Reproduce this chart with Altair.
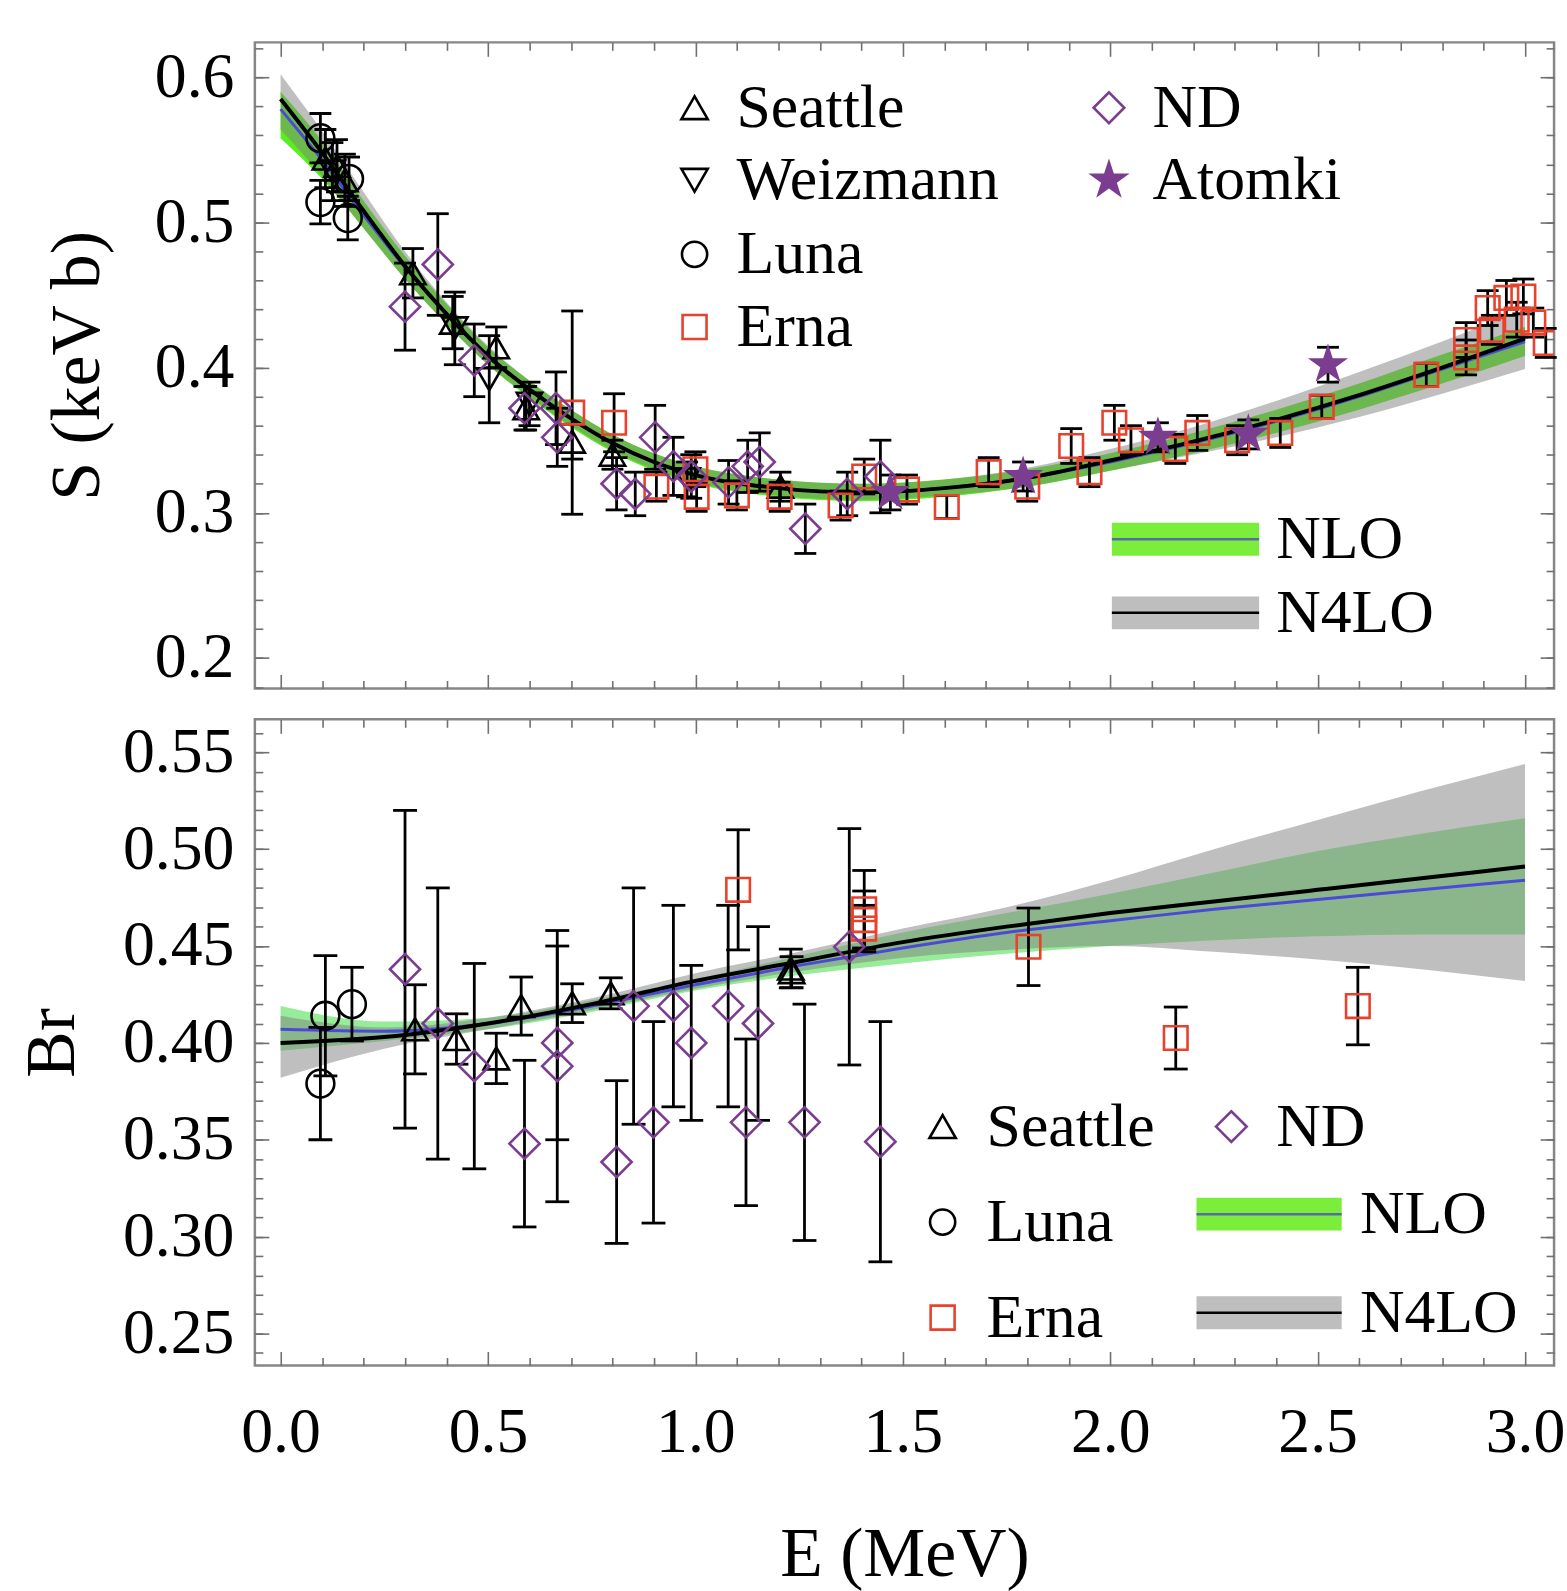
import altair as alt
import pandas as pd

FONT = "Liberation Serif"

# ---------------- top panel: S factor (keV b) ----------------
top_seattle_E = [0.108, 0.136, 0.155, 0.319, 0.415, 0.520, 0.592, 0.703, 0.800, 1.205]
top_seattle_S = [0.544, 0.539, 0.529, 0.465, 0.431, 0.414, 0.372, 0.349, 0.340, 0.318]
top_seattle_err = [0.020, 0.018, 0.018, 0.017, 0.018, 0.014, 0.015, 0.012, 0.010, 0.010]

top_weiz_E = [0.125, 0.420, 0.503, 0.600, 0.980]
top_weiz_S = [0.535, 0.427, 0.392, 0.375, 0.323]
top_weiz_err = [0.020, 0.025, 0.030, 0.015, 0.012]

top_luna_E = [0.096, 0.096, 0.165, 0.162]
top_luna_S = [0.558, 0.514, 0.530, 0.503]
top_luna_err = [0.017, 0.015, 0.015, 0.015]

top_erna_E = [0.703, 0.804, 0.906, 1.000, 1.003, 1.100, 1.203, 1.350, 1.407, 1.510,
              1.606, 1.707, 1.800, 1.906, 1.950, 2.010, 2.050, 2.157, 2.210, 2.306,
              2.410, 2.510, 2.762, 2.858, 2.858, 2.910, 2.920, 2.955, 2.980, 2.996,
              3.020, 3.050]
top_erna_S = [0.369, 0.362, 0.318, 0.330, 0.311, 0.312, 0.311, 0.305, 0.325, 0.316,
              0.304, 0.328, 0.318, 0.346, 0.328, 0.362, 0.350, 0.344, 0.355, 0.350,
              0.355, 0.373, 0.395, 0.419, 0.407, 0.441, 0.426, 0.448, 0.433, 0.449,
              0.431, 0.417]
top_erna_err = [0.070, 0.020, 0.010, 0.012, 0.010, 0.010, 0.010, 0.010, 0.012, 0.010,
                0.008, 0.010, 0.010, 0.012, 0.010, 0.012, 0.010, 0.010, 0.012, 0.010,
                0.010, 0.008, 0.008, 0.012, 0.012, 0.012, 0.010, 0.012, 0.012, 0.012,
                0.010, 0.010]

top_nd_E = [0.300, 0.379, 0.467, 0.588, 0.664, 0.667, 0.810, 0.855, 0.903, 0.947,
            0.990, 1.080, 1.126, 1.155, 1.265, 1.366, 1.446]
top_nd_S = [0.442, 0.471, 0.405, 0.372, 0.372, 0.352, 0.320, 0.313, 0.352, 0.332,
            0.325, 0.321, 0.332, 0.335, 0.289, 0.313, 0.325]
top_nd_err = [0.030, 0.035, 0.025, 0.015, 0.025, 0.020, 0.018, 0.015, 0.022, 0.020,
              0.015, 0.015, 0.018, 0.020, 0.017, 0.015, 0.025]

top_atomki_E = [1.470, 1.790, 2.115, 2.333, 2.525]
top_atomki_S = [0.314, 0.325, 0.352, 0.354, 0.402]
top_atomki_err = [0.012, 0.010, 0.010, 0.010, 0.012]

top_curve_E = [0.0, 0.1, 0.2, 0.3, 0.4, 0.5, 0.6, 0.7, 0.8, 0.9, 1.0,
               1.2, 1.4, 1.6, 1.8, 2.0, 2.2, 2.4, 2.6, 2.8, 3.0]
top_n4lo = [0.585, 0.548, 0.508, 0.470, 0.437, 0.408, 0.385, 0.365, 0.348, 0.335, 0.326,
            0.317, 0.314, 0.317, 0.324, 0.336, 0.349, 0.364, 0.381, 0.400, 0.420]
top_nlo = [0.578, 0.543, 0.505, 0.469, 0.437, 0.408, 0.385, 0.365, 0.348, 0.335, 0.326,
           0.317, 0.314, 0.317, 0.324, 0.335, 0.348, 0.363, 0.380, 0.399, 0.418]
top_nlo_lo = [0.558, 0.530, 0.496, 0.461, 0.430, 0.402, 0.379, 0.359, 0.342, 0.329, 0.320,
              0.311, 0.308, 0.311, 0.318, 0.329, 0.341, 0.355, 0.371, 0.389, 0.408]
top_nlo_hi = [0.590, 0.556, 0.515, 0.477, 0.444, 0.414, 0.391, 0.371, 0.354, 0.341, 0.332,
              0.323, 0.320, 0.323, 0.330, 0.341, 0.355, 0.371, 0.389, 0.409, 0.428]
top_n4lo_lo = [0.564, 0.532, 0.496, 0.461, 0.430, 0.402, 0.380, 0.360, 0.343, 0.330, 0.321,
               0.312, 0.309, 0.312, 0.318, 0.329, 0.340, 0.352, 0.366, 0.382, 0.399]
top_n4lo_hi = [0.602, 0.563, 0.521, 0.480, 0.445, 0.415, 0.391, 0.371, 0.354, 0.341, 0.332,
               0.323, 0.320, 0.323, 0.331, 0.344, 0.359, 0.377, 0.397, 0.418, 0.440]

# ---------------- bottom panel: branching ratio ----------------
bot_seattle_E = [0.324, 0.424, 0.520, 0.580, 0.703, 0.796, 1.230, 1.232]
bot_seattle_B = [0.407, 0.402, 0.392, 0.419, 0.4205, 0.4256, 0.4384, 0.4365]
bot_seattle_err = [0.023, 0.013, 0.013, 0.015, 0.010, 0.008, 0.010, 0.008]

bot_luna_E = [0.096, 0.108, 0.172]
bot_luna_B = [0.379, 0.414, 0.420]
bot_luna_err = [0.029, 0.031, 0.019]

bot_erna_E = [1.103, 1.407, 1.407, 1.407, 1.803, 2.158, 2.597]
bot_erna_B = [0.479, 0.469, 0.4634, 0.459, 0.4496, 0.4025, 0.419]
bot_erna_err = [0.031, 0.020, 0.015, 0.012, 0.020, 0.016, 0.020]

bot_nd_E = [0.300, 0.379, 0.467, 0.588, 0.667, 0.667, 0.810, 0.851, 0.899, 0.947,
            0.990, 1.079, 1.122, 1.151, 1.263, 1.371, 1.446]
bot_nd_B = [0.438, 0.410, 0.388, 0.348, 0.400, 0.388, 0.3385, 0.419, 0.359, 0.419,
            0.400, 0.419, 0.359, 0.410, 0.359, 0.4496, 0.349]
bot_nd_err = [0.082, 0.070, 0.053, 0.043, 0.050, 0.070, 0.042, 0.061, 0.052, 0.052,
              0.040, 0.052, 0.043, 0.050, 0.061, 0.061, 0.062]

bot_curve_E = [0.0, 0.25, 0.5, 0.75, 1.0, 1.25, 1.5, 1.75, 2.0, 2.25, 2.5, 2.75, 3.0]
bot_n4lo = [0.400, 0.403, 0.410, 0.420, 0.432, 0.442, 0.452, 0.460, 0.467, 0.473, 0.479, 0.485, 0.491]
bot_nlo = [0.407, 0.406, 0.410, 0.419, 0.430, 0.440, 0.449, 0.457, 0.463, 0.469, 0.474, 0.479, 0.484]
bot_nlo_lo = [0.396, 0.401, 0.407, 0.416, 0.427, 0.435, 0.441, 0.446, 0.450, 0.453, 0.455, 0.456, 0.456]
bot_nlo_hi = [0.419, 0.411, 0.413, 0.422, 0.433, 0.445, 0.457, 0.467, 0.477, 0.488, 0.499, 0.508, 0.516]
bot_n4lo_lo = [0.382, 0.397, 0.407, 0.417, 0.428, 0.437, 0.444, 0.448, 0.450, 0.447, 0.443, 0.438, 0.432]
bot_n4lo_hi = [0.414, 0.408, 0.413, 0.423, 0.436, 0.447, 0.459, 0.470, 0.484, 0.500, 0.515, 0.530, 0.544]

# ---------------- legend anchors (data units) ----------------
top_leg = {"Seattle": (0.998, 1.099, 0.579), "Weizmann": (0.998, 1.099, 0.529),
           "Luna": (0.998, 1.099, 0.478), "Erna": (0.998, 1.099, 0.428),
           "ND": (1.997, 2.102, 0.579), "Atomki": (1.997, 2.102, 0.529)}
top_sw_names = ["NLO", "N4LO"]
top_sw_E = [2.004, 2.359]
top_sw_txt_E = 2.400
top_sw_V = [0.2818, 0.2311]

bot_leg = {"Seattle": (1.596, 1.702, 0.3568), "Luna": (1.596, 1.702, 0.3075),
           "Erna": (1.596, 1.702, 0.2582), "ND": (2.292, 2.400, 0.3568)}
bot_sw_names = ["NLO", "N4LO"]
bot_sw_E = [2.208, 2.558]
bot_sw_txt_E = 2.602
bot_sw_V = [0.3116, 0.2607]

# ---------------- ticks ----------------
x_major = [0.0, 0.5, 1.0, 1.5, 2.0, 2.5, 3.0]
x_minor = [round(i * 0.1, 1) for i in range(31) if i % 5]
top_y_major = [0.2, 0.3, 0.4, 0.5, 0.6]
top_y_minor = [round(0.18 + i * 0.02, 2) for i in range(23)]
bot_y_major = [0.25, 0.30, 0.35, 0.40, 0.45, 0.50, 0.55]
bot_y_minor = [round(0.24 + i * 0.01, 2) for i in range(33)]

W, H = 1305, 649
MAJ, MIN = 14, 8
XS = alt.Scale(domain=[-0.062, 3.07], nice=False, zero=False)
YS_TOP = alt.Scale(domain=[0.179, 0.624], nice=False, zero=False)
YS_BOT = alt.Scale(domain=[0.2335, 0.567], nice=False, zero=False)

PURPLE = "#7b3d8f"
RED = "#e8412c"
STAR = ("M0,-1L0.2245,-0.309L0.9511,-0.309L0.3633,0.118L0.5878,0.809L0,0.382"
        "L-0.5878,0.809L-0.3633,0.118L-0.9511,-0.309L-0.2245,-0.309Z")
STYLE = {  # shape, colour, filled, size on plot, size in legend
    "Seattle": ("triangle-up", "black", False, 650, 700),
    "Weizmann": ("triangle-down", "black", False, 650, 700),
    "Luna": ("circle", "black", False, 780, 640),
    "Erna": ("square", RED, False, 560, 580),
    "ND": ("diamond", PURPLE, False, 920, 950),
    "Atomki": (STAR, PURPLE, True, 1800, 1900),
}


def ax(orient, values, size, **kw):
    d = dict(orient=orient, values=values, tickSize=size, offset=-size, domain=False,
             grid=False, ticks=True, tickColor="#707070", tickWidth=1.6, labels=False,
             title=None)
    d.update(kw)
    return alt.Axis(**d)


def pts(E, V, err):
    return pd.DataFrame({"E": E, "V": V,
                         "lo": [v - e for v, e in zip(V, err)],
                         "hi": [v + e for v, e in zip(V, err)]})


def point_mark(name, size, clip):
    shape, col, filled, _, _ = STYLE[name]
    if filled:
        return alt.Chart().mark_point(shape=shape, size=size, filled=True, color=col,
                                      opacity=1, strokeWidth=1, clip=clip)
    return alt.Chart().mark_point(shape=shape, size=size, filled=False, color=col,
                                  opacity=1, strokeWidth=2.6, clip=clip)


def panel(series, curve, ys, yaxes, xaxes, green, cap, leg, sw):
    cdf = pd.DataFrame(curve)
    NX = alt.X("E:Q", scale=XS, axis=None)

    layers = [
        alt.Chart(cdf).mark_area(interpolate="monotone", opacity=1, color=green).encode(
            x=alt.X("E:Q", scale=XS, axis=xaxes[0]),
            y=alt.Y("nlo_lo:Q", scale=ys, axis=yaxes[0]), y2="nlo_hi:Q"),
        alt.Chart(cdf).mark_area(interpolate="monotone", opacity=0.5, color="#808080").encode(
            x=alt.X("E:Q", scale=XS, axis=xaxes[1]),
            y=alt.Y("n4lo_lo:Q", scale=ys, axis=yaxes[1]), y2="n4lo_hi:Q"),
        alt.Chart(cdf).mark_line(interpolate="monotone", strokeWidth=3, color="#4a4ad6").encode(
            x=alt.X("E:Q", scale=XS, axis=xaxes[2]),
            y=alt.Y("nlo:Q", scale=ys, axis=yaxes[2])),
        alt.Chart(cdf).mark_line(interpolate="monotone", strokeWidth=4, color="black").encode(
            x=alt.X("E:Q", scale=XS, axis=xaxes[3]),
            y=alt.Y("n4lo:Q", scale=ys, axis=yaxes[3])),
    ]
    allp = pd.concat([df for _, df in series], ignore_index=True)
    layers += [
        alt.Chart(allp).mark_rule(color="black", strokeWidth=2.8).encode(
            x=NX, y=alt.Y("lo:Q", scale=ys, axis=None), y2="hi:Q"),
        alt.Chart(allp).mark_tick(color="black", orient="horizontal", size=cap,
                                  thickness=2.8, opacity=1).encode(
            x=NX, y=alt.Y("lo:Q", scale=ys, axis=None)),
        alt.Chart(allp).mark_tick(color="black", orient="horizontal", size=cap,
                                  thickness=2.8, opacity=1).encode(
            x=NX, y=alt.Y("hi:Q", scale=ys, axis=None)),
    ]
    for name, df in series:
        layers.append(point_mark(name, STYLE[name][3], True).properties(data=df).encode(
            x=NX, y=alt.Y("V:Q", scale=ys, axis=None)))
    # legend of experiments
    rows = []
    for name, (se, te, v) in leg.items():
        ldf = pd.DataFrame({"E": [se], "Et": [te], "V": [v], "label": [name]})
        layers.append(point_mark(name, STYLE[name][4], False).properties(data=ldf).encode(
            x=NX, y=alt.Y("V:Q", scale=ys, axis=None)))
        rows.append(ldf)
    lab = pd.concat(rows, ignore_index=True)
    layers.append(alt.Chart(lab).mark_text(align="left", baseline="middle", font=FONT,
                                           fontSize=62, color="black").encode(
        x=alt.X("Et:Q", scale=XS, axis=None), y=alt.Y("V:Q", scale=ys, axis=None),
        text="label:N"))
    # legend of theory bands
    sw_names, sw_E, sw_txt_E, sw_V = sw
    band_cols = ["#7aee3a", "#bebebe"]
    line_cols = ["#5a6aa8", "black"]
    for i in range(2):
        sdf = pd.DataFrame({"E0": [sw_E[0]], "E1": [sw_E[1]], "Et": [sw_txt_E],
                            "V": [sw_V[i]], "label": [sw_names[i]]})
        layers.append(alt.Chart(sdf).mark_rule(strokeWidth=33, color=band_cols[i]).encode(
            x=alt.X("E0:Q", scale=XS, axis=None), x2="E1:Q",
            y=alt.Y("V:Q", scale=ys, axis=None)))
        layers.append(alt.Chart(sdf).mark_rule(strokeWidth=2.5, color=line_cols[i]).encode(
            x=alt.X("E0:Q", scale=XS, axis=None), x2="E1:Q",
            y=alt.Y("V:Q", scale=ys, axis=None)))
        layers.append(alt.Chart(sdf).mark_text(align="left", baseline="middle", font=FONT,
                                               fontSize=62, color="black").encode(
            x=alt.X("Et:Q", scale=XS, axis=None), y=alt.Y("V:Q", scale=ys, axis=None),
            text="label:N"))

    return (alt.layer(*layers)
            .resolve_axis(x="independent", y="independent")
            .properties(width=W, height=H))


top_series = [
    ("Seattle", pts(top_seattle_E, top_seattle_S, top_seattle_err)),
    ("Weizmann", pts(top_weiz_E, top_weiz_S, top_weiz_err)),
    ("Luna", pts(top_luna_E, top_luna_S, top_luna_err)),
    ("Erna", pts(top_erna_E, top_erna_S, top_erna_err)),
    ("ND", pts(top_nd_E, top_nd_S, top_nd_err)),
    ("Atomki", pts(top_atomki_E, top_atomki_S, top_atomki_err)),
]
top_curve = {"E": top_curve_E, "nlo": top_nlo, "n4lo": top_n4lo,
             "nlo_lo": top_nlo_lo, "nlo_hi": top_nlo_hi,
             "n4lo_lo": top_n4lo_lo, "n4lo_hi": top_n4lo_hi}
top_yaxes = [
    ax("left", top_y_major, MAJ, labels=True, labelFont=FONT, labelFontSize=64,
       labelColor="black", labelPadding=21, format=".1f",
       title="S (keV b)", titleFont=FONT, titleFontSize=70, titleFontWeight="normal",
       titleColor="black", titleAngle=270, titleBaseline="middle", titleAlign="center",
       titleX=-178 - MAJ, titleY=H / 2),
    ax("right", top_y_major, MAJ),
    ax("left", top_y_minor, MIN),
    ax("right", top_y_minor, MIN),
]
top_xaxes = [ax("bottom", x_major, MAJ), ax("top", x_major, MAJ),
             ax("bottom", x_minor, MIN), ax("top", x_minor, MIN)]
top = panel(top_series, top_curve, YS_TOP, top_yaxes, top_xaxes, "#5aee1e", 22,
            top_leg, (top_sw_names, top_sw_E, top_sw_txt_E, top_sw_V))

bot_series = [
    ("Seattle", pts(bot_seattle_E, bot_seattle_B, bot_seattle_err)),
    ("Luna", pts(bot_luna_E, bot_luna_B, bot_luna_err)),
    ("Erna", pts(bot_erna_E, bot_erna_B, bot_erna_err)),
    ("ND", pts(bot_nd_E, bot_nd_B, bot_nd_err)),
]
bot_curve = {"E": bot_curve_E, "nlo": bot_nlo, "n4lo": bot_n4lo,
             "nlo_lo": bot_nlo_lo, "nlo_hi": bot_nlo_hi,
             "n4lo_lo": bot_n4lo_lo, "n4lo_hi": bot_n4lo_hi}
bot_yaxes = [
    ax("left", bot_y_major, MAJ, labels=True, labelFont=FONT, labelFontSize=64,
       labelColor="black", labelPadding=21, format=".2f",
       title="Br", titleFont=FONT, titleFontSize=70, titleFontWeight="normal",
       titleColor="black", titleAngle=270, titleBaseline="middle", titleAlign="center",
       titleX=-203 - MAJ, titleY=H / 2),
    ax("right", bot_y_major, MAJ),
    ax("left", bot_y_minor, MIN),
    ax("right", bot_y_minor, MIN),
]
bot_xaxes = [
    ax("bottom", x_major, MAJ, labels=True, labelFont=FONT, labelFontSize=64,
       labelColor="black", labelPadding=35, format=".1f", labelFlush=False,
       title="E (MeV)", titleFont=FONT, titleFontSize=70, titleFontWeight="normal",
       titleColor="black", titleBaseline="middle", titleAlign="center",
       titleX=W / 2, titleY=190 + MAJ),
    ax("top", x_major, MAJ), ax("bottom", x_minor, MIN), ax("top", x_minor, MIN)]
bottom = panel(bot_series, bot_curve, YS_BOT, bot_yaxes, bot_xaxes, "#96ec98", 24,
               bot_leg, (bot_sw_names, bot_sw_E, bot_sw_txt_E, bot_sw_V))

chart = (alt.vconcat(top, bottom, spacing=31, bounds="flush")
         .properties(padding={"left": 16, "top": 36, "right": 0, "bottom": 0})
         .configure(background="white")
         .configure_view(stroke="#868686", strokeWidth=2.5))

chart.save("out.html", embed_options={"renderer": "svg", "actions": False})
